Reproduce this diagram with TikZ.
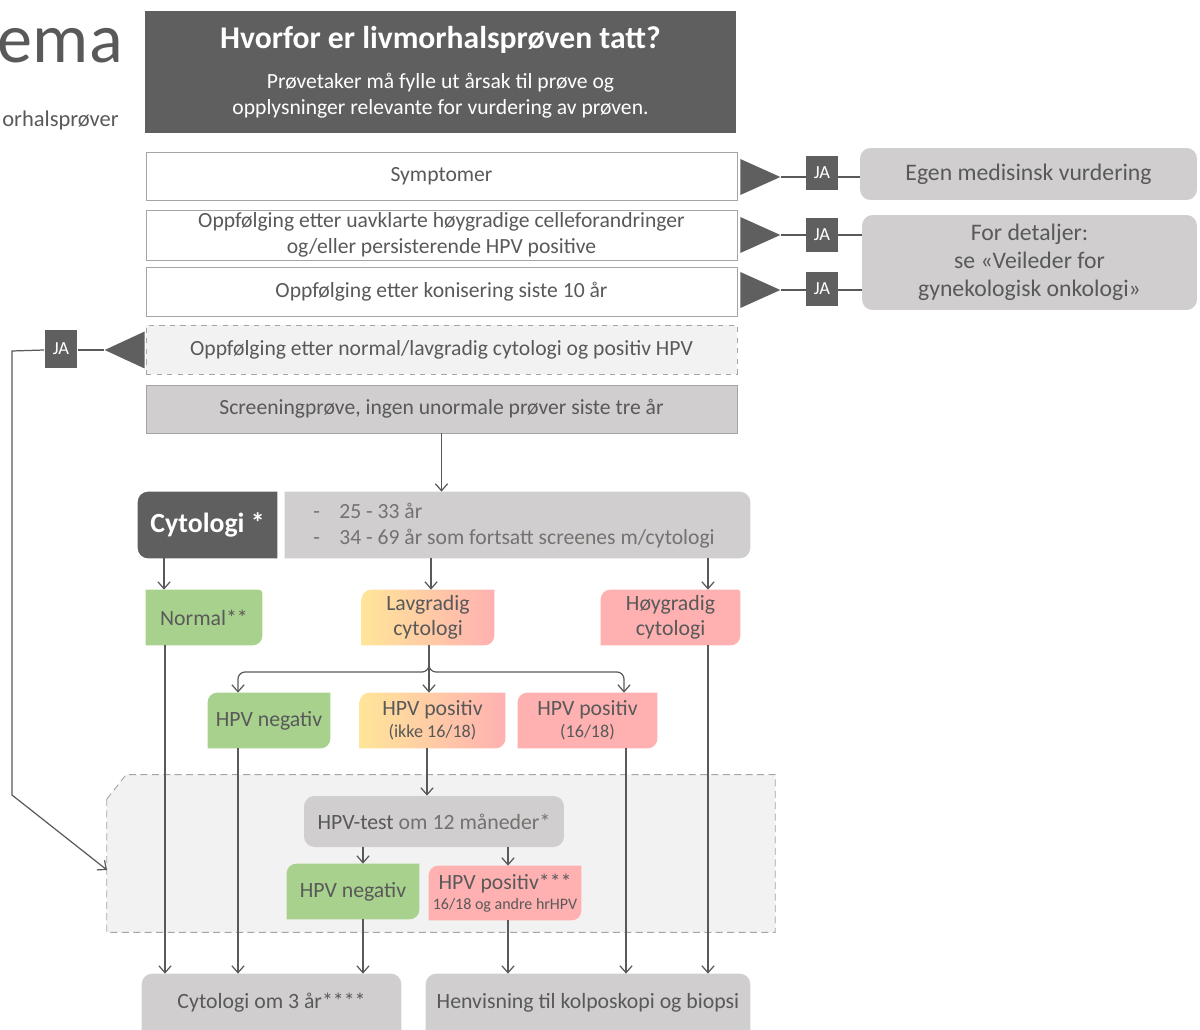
\documentclass[tikz,border=0pt]{standalone}
\usepackage{fontspec}
\setmainfont{Carlito}
\usetikzlibrary{shapes.geometric,arrows.meta,backgrounds}

\definecolor{mork}{RGB}{95,95,95}
\definecolor{tekst}{RGB}{89,89,89}
\definecolor{lystekst}{RGB}{118,113,113}
\definecolor{lysgraa}{RGB}{208,206,206}
\definecolor{bakgr}{RGB}{242,242,242}
\definecolor{kant}{RGB}{165,165,165}
\definecolor{gronn}{RGB}{169,209,142}
\definecolor{rosa}{RGB}{255,177,177}
\definecolor{gul}{RGB}{255,229,153}

% box fill with its own radius per corner: name, style, TL, TR, BR, BL
\newcommand{\hjorner}[6]{%
  \path[#2] ([xshift=#3]#1.north west) -- ([xshift=-#4]#1.north east)
    arc[start angle=90,end angle=0,radius=#4] -- ([yshift=#5]#1.south east)
    arc[start angle=0,end angle=-90,radius=#5] -- ([xshift=#6]#1.south west)
    arc[start angle=-90,end angle=-180,radius=#6] -- ([yshift=-#3]#1.north west)
    arc[start angle=180,end angle=90,radius=#3] -- cycle;}

\begin{document}
\begin{tikzpicture}[x=0.02cm, y=-0.02cm,
    >={Straight Barb[length=4pt,width=7pt]},
    rad/.style={draw=kant, line width=0.5pt, minimum width=11.82cm, inner sep=0pt,
      align=center, text=tekst, font=\fontsize{12.3}{14.7}\selectfont},
    ja/.style={fill=mork, text=white, minimum width=0.64cm, minimum height=0.68cm,
      inner sep=0pt, font=\fontsize{10.5}{12}\selectfont},
    trekant/.style={isosceles triangle, isosceles triangle stretches, fill=mork,
      minimum width=0.72cm, minimum height=0.8cm, inner sep=0pt, anchor=lower side},
    utfall/.style={fill=lysgraa, rounded corners=6pt, inner sep=0pt, align=center,
      text=tekst, font=\fontsize{13.5}{16}\selectfont},
    celle/.style={inner sep=0pt, align=center, text=tekst,
      font=\fontsize{12.4}{14.5}\selectfont},
    linje/.style={draw=tekst, line width=0.7pt},
    pil/.style={linje, ->}
    ]
    \useasboundingbox (0,0) rectangle (1200,1030);

    % title remains at the left edge
    \node[anchor=east, inner sep=0pt, text=tekst, font=\fontsize{40}{46}\selectfont] (tittel) at (123,46) {ema};
    \node[anchor=east, inner sep=0pt, text=tekst, font=\fontsize{12.8}{15}\selectfont] (undertittel) at (119,121) {orhalsprøver};

    % header
    \node[fill=mork, minimum width=11.82cm, minimum height=2.44cm, align=center, text=white,
      font=\fontsize{12.3}{14.7}\selectfont] (hvorfor) at (440.5,72)
      {{\fontsize{18}{20}\selectfont\bfseries Hvorfor er livmorhalsprøven tatt?}\\[8pt]
       Prøvetaker må fylle ut årsak til prøve og\\opplysninger relevante for vurdering av prøven.};

    % reasons
    \node[rad, fill=white, minimum height=0.96cm] (sympt) at (441.5,176) {Symptomer};
    \node[rad, fill=white, minimum height=1.0cm] (uavkl) at (441.5,235)
      {Oppfølging etter uavklarte høygradige celleforandringer\\og/eller persisterende HPV positive};
    \node[rad, fill=white, minimum height=0.98cm] (konis) at (441.5,291.5) {Oppfølging etter konisering siste 10 år};
    \node[rad, fill=bakgr, dashed, minimum height=0.98cm] (oppf) at (441.5,349.5)
      {Oppfølging etter normal/lavgradig cytologi og positiv HPV};
    \node[rad, fill=lysgraa, minimum height=0.96cm] (screen) at (441.5,409)
      {Screeningprøve, ingen unormale prøver siste tre år};

    % JA branches
    \node[trekant] (tri1) at (740,177) {};
    \node[trekant] (tri2) at (740,235) {};
    \node[trekant] (tri3) at (740,290) {};
    \node[trekant, shape border rotate=180, minimum width=0.74cm] (triv) at (145,350) {};
    \node[ja] (ja1) at (822,173) {JA};
    \node[ja] (ja2) at (822,235) {JA};
    \node[ja] (ja3) at (822,289) {JA};
    \node[ja, minimum width=0.66cm, minimum height=0.76cm] (jav) at (61,349) {JA};
    \node[utfall, minimum width=6.74cm, minimum height=1.04cm] (egen) at (1028.5,174) {Egen medisinsk vurdering};
    \node[utfall, minimum width=6.7cm, minimum height=1.9cm] (detalj) at (1029.5,262.5)
      {For detaljer:\\se «Veileder for\\gynekologisk onkologi»};

    % cytology
    \node[celle, minimum width=2.78cm, minimum height=1.32cm, text=white,
      font=\fontsize{15.8}{18}\selectfont\bfseries] (cyto) at (207.5,525) {Cytologi *};
    \node[celle, minimum width=9.3cm, minimum height=1.32cm] (alder) at (517.5,525) {};
    \node[anchor=west, align=left, text=lystekst, inner sep=0pt,
      font=\fontsize{12.3}{14.7}\selectfont] (alderliste) at (313,526)
      {\makebox[0.52cm][l]{-}25 - 33 år\\\makebox[0.52cm][l]{-}34 - 69 år som fortsatt screenes m/cytologi};
    \node[celle, minimum width=2.32cm, minimum height=1.1cm] (normal) at (204,617.5) {Normal**};
    \node[celle, minimum width=2.64cm, minimum height=1.1cm] (lav) at (428,617.5) {Lavgradig\\cytologi};
    \node[celle, minimum width=2.78cm, minimum height=1.1cm] (hoy) at (670.5,617.5) {Høygradig\\cytologi};

    % HPV after low grade
    \node[celle, minimum width=2.44cm, minimum height=1.1cm] (hpvneg) at (269,720.5) {HPV negativ};
    \node[celle, minimum width=2.9cm, minimum height=1.1cm] (hpvpos) at (432.5,720.5)
      {HPV positiv\\[-2pt]{\fontsize{10.3}{12}\selectfont (ikke 16/18)}};
    \node[celle, minimum width=2.78cm, minimum height=1.1cm] (hpvpos1618) at (587.5,720.5)
      {HPV positiv\\[-2pt]{\fontsize{10.3}{12}\selectfont (16/18)}};

    % follow-up after 12 months
    \node[minimum width=13.36cm, minimum height=3.14cm, inner sep=0pt] (oppfolg) at (441,853.5) {};
    \coordinate (oppfinn) at (107,870);
    \node[utfall, minimum width=5.2cm, minimum height=1.02cm, text=lystekst,
      font=\fontsize{12.4}{14.5}\selectfont] (test) at (434,821.5) {\textcolor{tekst}{HPV-test} om 12 måneder*};
    \node[celle, minimum width=2.64cm, minimum height=1.1cm] (hpvneg2) at (353,891.5) {HPV negativ};
    \node[celle, minimum width=3.04cm, minimum height=1.08cm] (hpvpos2) at (505,893)
      {HPV positiv***\\[-3pt]{\fontsize{9.1}{10.5}\selectfont 16/18 og andre hrHPV}};

    % outcomes
    \node[celle, minimum width=5.18cm, minimum height=1.16cm] (cyto3) at (271.5,1003) {Cytologi om 3 år****};
    \node[celle, minimum width=6.48cm, minimum height=1.16cm] (henv) at (588,1003)
      {Henvisning til kolposkopi og biopsi};

    % fills behind the text
    \begin{scope}[on background layer]
      \filldraw[fill=bakgr, draw=kant, line width=0.5pt, dash pattern=on 4pt off 2.5pt]
        ([yshift=-14pt]oppfolg.north west) -- ([xshift=11pt]oppfolg.north west) -- (oppfolg.north east)
        -- (oppfolg.south east) -- (oppfolg.south west) -- cycle;
      \hjorner{cyto}{fill=mork}{6pt}{0.01pt}{0.01pt}{6pt}
      \hjorner{alder}{fill=lysgraa}{0.01pt}{6pt}{6pt}{0.01pt}
      \hjorner{normal}{fill=gronn}{0.01pt}{2pt}{5.5pt}{0.01pt}
      \hjorner{lav}{left color=gul, right color=rosa}{5.5pt}{0.01pt}{5.5pt}{0.01pt}
      \hjorner{hoy}{fill=rosa}{5.5pt}{1pt}{5.5pt}{0.01pt}
      \hjorner{hpvneg}{fill=gronn}{5.5pt}{0.01pt}{5.5pt}{0.01pt}
      \hjorner{hpvpos}{left color=gul, right color=rosa}{5.5pt}{0.01pt}{5.5pt}{0.01pt}
      \hjorner{hpvpos1618}{fill=rosa}{5.5pt}{0.01pt}{5.5pt}{0.01pt}
      \hjorner{hpvneg2}{fill=gronn}{5.5pt}{0.01pt}{5.5pt}{0.01pt}
      \hjorner{hpvpos2}{fill=rosa}{5.5pt}{0.01pt}{5.5pt}{0.01pt}
      \hjorner{cyto3}{fill=lysgraa}{6pt}{6pt}{0.01pt}{0.01pt}
      \hjorner{henv}{fill=lysgraa}{6pt}{6pt}{0.01pt}{0.01pt}
    \end{scope}

    % JA lines
    \draw[linje] (tri1.apex) -- (ja1.west |- tri1.apex);
    \draw[linje] (tri2.apex) -- (ja2.west |- tri2.apex);
    \draw[linje] (tri3.apex) -- (ja3.west |- tri3.apex);
    \draw[linje] (ja1.east |- tri1.apex) -- (egen.west |- tri1.apex);
    \draw[linje] (ja2.east |- tri2.apex) -- (detalj.west |- tri2.apex);
    \draw[linje] (ja3.east |- tri3.apex) -- (detalj.west |- tri3.apex);
    \draw[linje] (triv.apex) -- (jav.east |- triv.apex);
    \draw[pil] (jav.west |- triv.apex) -- (12,351) -- (12,795) -- (oppfinn);

    % arrows
    \draw[pil] (screen.south) -- (screen.south |- alder.north);
    \draw[pil] (cyto.south -| 164,0) -- (normal.north -| 164,0);
    \draw[pil] (alder.south -| 431,0) -- (lav.north -| 431,0);
    \draw[pil] (alder.south -| 708,0) -- (hoy.north -| 708,0);
    \draw[pil] (lav.south -| 429,0) -- (hpvpos.north -| 429,0);
    \draw[pil, rounded corners=4pt] (lav.south -| 429,0) -- (429,672) -- (238,672) -- (hpvneg.north -| 238,0);
    \draw[pil, rounded corners=4pt] (lav.south -| 429,0) -- (429,672) -- (624,672) -- (hpvpos1618.north -| 624,0);
    \draw[pil] (hpvpos.south -| 427,0) -- (test.north -| 427,0);
    \draw[pil] (test.south -| 363,0) -- (hpvneg2.north -| 363,0);
    \draw[pil] (test.south -| 508,0) -- (hpvpos2.north -| 508,0);
    \draw[pil] (normal.south -| 165,0) -- (cyto3.north -| 165,0);
    \draw[pil] (hpvneg.south -| 238,0) -- (cyto3.north -| 238,0);
    \draw[pil] (hpvneg2.south -| 363,0) -- (cyto3.north -| 363,0);
    \draw[pil] (hpvpos2.south -| 508,0) -- (henv.north -| 508,0);
    \draw[pil] (hpvpos1618.south -| 626,0) -- (henv.north -| 626,0);
    \draw[pil] (hoy.south -| 708,0) -- (henv.north -| 708,0);
\end{tikzpicture}
\end{document}
